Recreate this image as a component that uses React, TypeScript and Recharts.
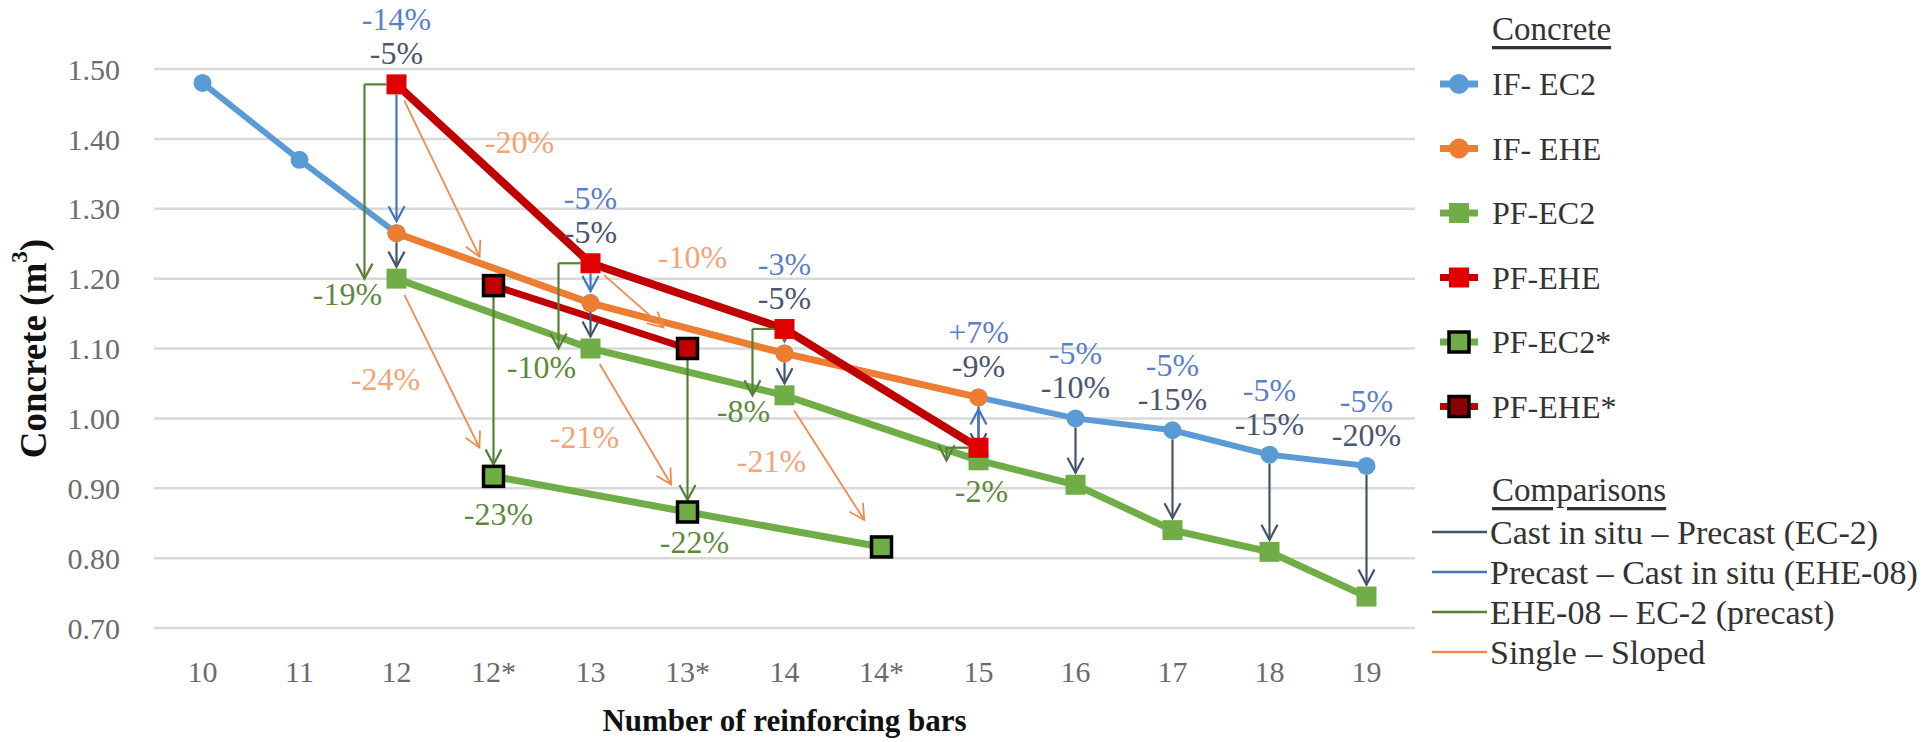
import React from 'react'
import {
  LineChart, Line, XAxis, YAxis, CartesianGrid, ReferenceLine, ReferenceDot, Legend, Label,
} from 'recharts'

const CATEGORIES = ['10', '11', '12', '12*', '13', '13*', '14', '14*', '15', '16', '17', '18', '19']
const Y_TICKS = [0.7, 0.8, 0.9, 1.0, 1.1, 1.2, 1.3, 1.4, 1.5]

const IF_EC2 = [1.48, 1.37, 1.265, null, 1.165, null, 1.093, null, 1.03, 1.0, 0.983, 0.948, 0.932]
const IF_EHE = [null, null, 1.265, null, 1.165, null, 1.093, null, 1.03, null, null, null, null]
const PF_EC2 = [null, null, 1.2, null, 1.1, null, 1.033, null, 0.94, 0.905, 0.84, 0.809, 0.745]
const PF_EHE = [null, null, 1.478, null, 1.222, null, 1.128, null, 0.958, null, null, null, null]
const PF_EC2S = [null, null, null, 0.917, null, 0.866, null, 0.816, null, null, null, null, null]
const PF_EHES = [null, null, null, 1.19, null, 1.1, null, null, null, null, null, null, null]

// Cast in situ – Precast (EC-2)
const EC2_AT = [2, 4, 6, 8, 9, 10, 11, 12]
const EC2_PCT = ['-5%', '-5%', '-5%', '-9%', '-10%', '-15%', '-15%', '-20%']
// Precast – Cast in situ (EHE-08)
const EHE_AT = [2, 4, 6, 8]
const EHE_PCT = ['-14%', '-5%', '-3%', '+7%']
const EHE_NOTE_AT = [9, 10, 11, 12]
const EHE_NOTE_PCT = ['-5%', '-5%', '-5%', '-5%']
// EHE-08 – EC-2 (precast)
const CODE_AT = [2, 3, 4, 5, 6, 8]
const CODE_PCT = ['-19%', '-23%', '-10%', '-22%', '-8%', '-2%']
// Single – Sloped
const SLOPE_AT = [2, 2, 4, 4, 6]
const SLOPE_SERIES = ['ehe', 'ec2', 'ehe', 'ec2', 'ec2']
const SLOPE_PCT = ['-20%', '-24%', '-10%', '-21%', '-21%']

// label placement (px) relative to the arrow ends
const CODE_LABEL_OFF = [[-49, 15], [5, 38], [-49, 18], [7, 30], [-41, 16], [3, 31]]
const SLOPE_LABEL_OFF = [[123, 58], [-11, 100], [102, -6], [-6, 88], [-13, 66]]

const C = {
  blue: '#5B9BD5', orange: '#ED7D31', green: '#70AD47', red: '#C00000', redFill: '#E00000', darkRed: '#8B0000',
  aDark: '#44546A', aBlue: '#4472C4', aGreen: '#548235', aOrange: '#F08A4B',
  tBlue: '#5B7FC8', tDark: '#4A5670', tGreen: '#5E8A3C', tOrange: '#F4A374',
}
const FONT = 'Liberation Serif, Times New Roman, serif'

const rows = CATEGORIES.map((c, i) => ({
  i, ifec2: IF_EC2[i], ifehe: IF_EHE[i], pfec2: PF_EC2[i], pfehe: PF_EHE[i], pfec2s: PF_EC2S[i], pfehes: PF_EHES[i],
}))

const circleDot = (fill: string) => (p: any) =>
  p.value == null || p.cy == null ? <g key={p.index} /> : <circle key={p.index} cx={p.cx} cy={p.cy} r={9} fill={fill} />

const squareDot = (fill: string, stroke?: string) => (p: any) =>
  p.value == null || p.cy == null ? <g key={p.index} /> : (
    <rect key={p.index} x={p.cx - 10} y={p.cy - 10} width={20} height={20} fill={fill}
      stroke={stroke ?? 'none'} strokeWidth={stroke ? 3.5 : 0} />
  )

function arrow(color: string, width: number, head: boolean, s0: number, s1: number) {
  return (p: any) => {
    const { x1, y1, x2, y2 } = p
    const dx = x2 - x1, dy = y2 - y1
    const len = Math.hypot(dx, dy) || 1
    const ux = dx / len, uy = dy / len
    const sx = x1 + ux * s0, sy = y1 + uy * s0
    const ex = x2 - ux * s1, ey = y2 - uy * s1
    const h = 15, w = 8
    const bx = ex - ux * h, by = ey - uy * h
    return (
      <g>
        <line x1={sx} y1={sy} x2={ex} y2={ey} stroke={color} strokeWidth={width} />
        {head && (
          <polyline points={`${bx - uy * w},${by + ux * w} ${ex},${ey} ${bx + uy * w},${by - ux * w}`}
            fill="none" stroke={color} strokeWidth={width} />
        )}
      </g>
    )
  }
}

const textAt = (t: string, color: string, dx: number, dy: number) => (p: any) => (
  <g fontFamily={FONT}>
    <text x={p.cx + dx} y={p.cy + dy} textAnchor="middle" dominantBaseline="central"
      fontFamily={FONT} fontSize={32} style={{ fontFamily: FONT }} fill={color}>{t}</text>
  </g>
)

function LegendBox() {
  const conc = [
    { name: 'IF- EC2', color: C.blue, kind: 'c' },
    { name: 'IF- EHE', color: C.orange, kind: 'c' },
    { name: 'PF-EC2', color: C.green, kind: 's', fill: C.green },
    { name: 'PF-EHE', color: C.red, kind: 's', fill: C.redFill },
    { name: 'PF-EC2*', color: C.green, kind: 's', fill: C.green, border: '#000' },
    { name: 'PF-EHE*', color: C.red, kind: 's', fill: C.darkRed, border: '#000' },
  ]
  const comp = [
    { name: 'Cast in situ – Precast (EC-2)', color: C.aDark },
    { name: 'Precast – Cast in situ (EHE-08)', color: C.aBlue },
    { name: 'EHE-08 – EC-2 (precast)', color: C.aGreen },
    { name: 'Single – Sloped', color: C.aOrange },
  ]
  return (
    <svg width={509} height={742} style={{ fontFamily: FONT }}>
      <text x={72} y={29} dominantBaseline="central" fontSize={33} fill="#333" textDecoration="underline">Concrete</text>
      {conc.map((e, k) => {
        const y = 84 + k * 64.5
        return (
          <g key={e.name}>
            <line x1={20} x2={58} y1={y} y2={y} stroke={e.color} strokeWidth={7} />
            {e.kind === 'c'
              ? <circle cx={39} cy={y} r={10} fill={e.color} />
              : <rect x={29} y={y - 10} width={20} height={20} fill={e.fill} stroke={e.border ?? 'none'} strokeWidth={e.border ? 3.5 : 0} />}
            <text x={72} y={y} dominantBaseline="central" fontSize={32} fill="#333">{e.name}</text>
          </g>
        )
      })}
      <text x={72} y={490} dominantBaseline="central" fontSize={33} fill="#333" textDecoration="underline">Comparisons</text>
      {comp.map((e, k) => {
        const y = 532 + k * 40
        return (
          <g key={e.name}>
            <line x1={12} x2={67} y1={y} y2={y} stroke={e.color} strokeWidth={2.5} />
            <text x={70} y={y} dominantBaseline="central" fontSize={34} fill="#333">{e.name}</text>
          </g>
        )
      })}
    </svg>
  )
}

export default function App() {
  const tick = { fill: '#6b6b6b', fontSize: 30, fontFamily: FONT }

  const refs: React.ReactNode[] = []

  // Cast in situ – Precast (EC-2): IF-EC2 -> PF-EC2
  EC2_AT.forEach((i, k) => {
    refs.push(<ReferenceLine key={`ec2-${i}`} ifOverflow="visible"
      segment={[{ x: i, y: IF_EC2[i] as number }, { x: i, y: PF_EC2[i] as number }]}
      shape={arrow(C.aDark, 2.2, true, 9, 12)} />)
    const top = Math.max(IF_EC2[i] as number, (PF_EHE[i] ?? 0) as number)
    refs.push(<ReferenceDot key={`ec2t-${i}`} x={i} y={top} ifOverflow="visible" shape={textAt(EC2_PCT[k], C.tDark, 0, -31)} />)
  })
  // Precast – Cast in situ (EHE-08): PF-EHE -> IF-EHE
  EHE_AT.forEach((i, k) => {
    refs.push(<ReferenceLine key={`ehe-${i}`} ifOverflow="visible"
      segment={[{ x: i, y: PF_EHE[i] as number }, { x: i, y: IF_EHE[i] as number }]}
      shape={arrow(C.aBlue, 2.2, true, 10, 12)} />)
    const top = Math.max(IF_EC2[i] as number, PF_EHE[i] as number)
    refs.push(<ReferenceDot key={`ehet-${i}`} x={i} y={top} ifOverflow="visible" shape={textAt(EHE_PCT[k], C.tBlue, 0, -65)} />)
  })
  EHE_NOTE_AT.forEach((i, k) => {
    refs.push(<ReferenceDot key={`ehen-${i}`} x={i} y={IF_EC2[i] as number} ifOverflow="visible" shape={textAt(EHE_NOTE_PCT[k], C.tBlue, 0, -65)} />)
  })
  // EHE-08 – EC-2 (precast)
  CODE_AT.forEach((i, k) => {
    const elbow = PF_EHE[i] != null
    const from = (elbow ? PF_EHE[i] : PF_EHES[i]) as number
    const to = (elbow ? PF_EC2[i] : PF_EC2S[i]) as number
    const xv = elbow ? i - 0.33 : i
    if (elbow) {
      refs.push(<ReferenceLine key={`codeh-${i}`} ifOverflow="visible"
        segment={[{ x: i, y: from }, { x: xv, y: from }]} shape={arrow(C.aGreen, 2.2, false, 10, 0)} />)
    }
    refs.push(<ReferenceLine key={`code-${i}`} ifOverflow="visible"
      segment={[{ x: xv, y: from }, { x: xv, y: to }]} shape={arrow(C.aGreen, 2.2, true, elbow ? 0 : 10, elbow ? 0 : 12)} />)
    const [dx, dy] = CODE_LABEL_OFF[k]
    refs.push(<ReferenceDot key={`codet-${i}`} x={i} y={to} ifOverflow="visible" shape={textAt(CODE_PCT[k], C.tGreen, dx, dy)} />)
  })
  // Single – Sloped
  SLOPE_AT.forEach((i, k) => {
    const ehe = SLOPE_SERIES[k] === 'ehe'
    const from = (ehe ? PF_EHE[i] : PF_EC2[i]) as number
    const to = (ehe ? PF_EHES[i + 1] : PF_EC2S[i + 1]) as number
    refs.push(<ReferenceLine key={`slope-${k}`} ifOverflow="visible"
      segment={[{ x: i, y: from }, { x: i + 1, y: to }]} shape={arrow(C.aOrange, 1.8, true, 18, 32)} />)
    const [dx, dy] = SLOPE_LABEL_OFF[k]
    refs.push(<ReferenceDot key={`slopet-${k}`} x={i} y={from} ifOverflow="visible" shape={textAt(SLOPE_PCT[k], C.tOrange, dx, dy)} />)
  })

  return (
    <div style={{ position: 'absolute', left: 0, top: 0, width: 1929, height: 742, background: '#fff' }}>
      <LineChart width={1929} height={742} data={rows}
        margin={{ top: 69, right: 514, bottom: 0, left: 0 }} style={{ fontFamily: FONT }}>
        <CartesianGrid vertical={false} stroke="#d9d9d9" strokeWidth={2.5} />
        <XAxis dataKey="i" type="number" domain={[-0.5, 12.5]} ticks={CATEGORIES.map((_, i) => i)}
          tickFormatter={(v: number) => CATEGORIES[v]} interval={0} height={114}
          axisLine={false} tickLine={false} tickSize={0} tickMargin={33} tick={tick}>
          <Label position="insideBottom" offset={11} value="Number of reinforcing bars"
            style={{ fontFamily: FONT, fontSize: 31, fontWeight: 700, fill: '#111' }} />
        </XAxis>
        <YAxis type="number" domain={[0.7, 1.5]} ticks={Y_TICKS} width={154} allowDataOverflow
          tickFormatter={(v: number) => v.toFixed(2)} axisLine={false} tickLine={false} tickSize={0} tickMargin={34} tick={tick}>
          <Label content={(p: any) => {
            const vb = p.viewBox
            const cx = vb.x + 33
            const cy = vb.y + vb.height / 2
            return (
              <text x={cx} y={cy} transform={`rotate(-90, ${cx}, ${cy})`} textAnchor="middle" dominantBaseline="central"
                style={{ fontFamily: FONT, fontSize: 37, fontWeight: 700 }} fill="#111">
                Concrete (m<tspan style={{ fontSize: 23 }} dy={-14}>3</tspan><tspan dy={14}>)</tspan>
              </text>
            )
          }} />
        </YAxis>
        <Line dataKey="ifec2" stroke={C.blue} strokeWidth={6} connectNulls isAnimationActive={false}
          dot={circleDot(C.blue)} activeDot={false} />
        <Line dataKey="ifehe" stroke={C.orange} strokeWidth={7} connectNulls isAnimationActive={false}
          dot={circleDot(C.orange)} activeDot={false} />
        <Line dataKey="pfec2" stroke={C.green} strokeWidth={7} connectNulls isAnimationActive={false}
          dot={squareDot(C.green)} activeDot={false} />
        <Line dataKey="pfehe" stroke={C.red} strokeWidth={8} connectNulls isAnimationActive={false}
          dot={squareDot(C.redFill)} activeDot={false} />
        <Line dataKey="pfec2s" stroke={C.green} strokeWidth={7} connectNulls isAnimationActive={false}
          dot={squareDot(C.green, '#000')} activeDot={false} />
        <Line dataKey="pfehes" stroke={C.red} strokeWidth={7} connectNulls isAnimationActive={false}
          dot={squareDot(C.red, '#000')} activeDot={false} />
        {refs}
        <Legend layout="vertical" align="center" verticalAlign="middle"
          wrapperStyle={{ left: 1420, top: 0, width: 509, height: 742 }} content={() => <LegendBox />} />
      </LineChart>
    </div>
  )
}
